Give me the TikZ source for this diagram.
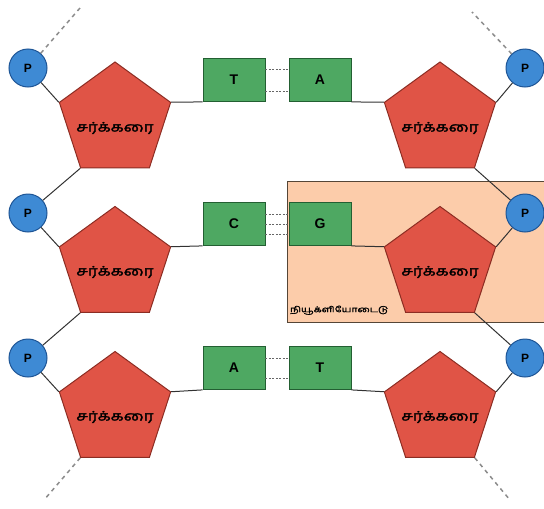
\documentclass[tikz,border=0pt]{standalone}
\usepackage{fontspec}
\setmainfont{Liberation Sans}
\newfontfamily\tamilfont[Script=Tamil,FakeStretch=1.3,FakeBold=2]{Hind Madurai}
\usetikzlibrary{shapes.geometric}
\definecolor{sugarred}{RGB}{224,84,70}
\definecolor{sugaredge}{RGB}{140,45,35}
\definecolor{phosblue}{RGB}{62,138,212}
\definecolor{phosedge}{RGB}{30,85,150}
\definecolor{basegreen}{RGB}{78,168,98}
\definecolor{baseedge}{RGB}{35,95,50}
\definecolor{peach}{RGB}{252,204,170}
\definecolor{peachedge}{RGB}{85,70,55}
\definecolor{linedark}{RGB}{50,50,50}
\begin{document}
\begin{tikzpicture}[x=1pt,y=-1pt,
  sugar/.style={regular polygon, regular polygon sides=5, minimum size=117pt, inner sep=0pt, fill=sugarred, draw=sugaredge, line width=1pt},
  phos/.style={circle, minimum size=38pt, inner sep=0pt, fill=phosblue, draw=phosedge, line width=1pt, font=\bfseries\fontsize{12}{12}\selectfont},
  basebox/.style={rectangle, minimum width=62pt, minimum height=43pt, inner sep=0pt, fill=basegreen, draw=baseedge, line width=0.8pt, font=\bfseries\fontsize{14}{14}\selectfont},
  bond/.style={draw=linedark, line width=1pt},
  hb/.style={draw=gray!80!black, line width=1pt, dash pattern=on 2pt off 1.5pt},
  ext/.style={draw=gray!90, line width=1.5pt, dash pattern=on 4pt off 4pt},
  sugartext/.style={font=\tamilfont\fontsize{13}{14}\selectfont, inner sep=0pt},
]
\clip (0,0) rectangle (544,509);
% nucleotide highlight
\node[draw=peachedge, fill=peach, line width=1.2pt, minimum width=270pt, minimum height=141pt, inner sep=0pt, anchor=north west] (nuc) at (287,181) {};
\node[anchor=south west, inner sep=0pt, font=\tamilfont\fontsize{8}{9}\selectfont] (nuclabel) at (290,315) {நியூக்ளியோடைடு};

% sugars
\node[sugar] (S1) at (115,120.5) {};
\node[sugar] (S2) at (115,265) {};
\node[sugar] (S3) at (115,410) {};
\node[sugar] (R1) at (440,120.5) {};
\node[sugar] (R2) at (440,265) {};
\node[sugar] (R3) at (440,410) {};
\node[sugartext] (tS1) at (115,128) {சர்க்கரை};
\node[sugartext] (tS2) at (115,272) {சர்க்கரை};
\node[sugartext] (tS3) at (115,417) {சர்க்கரை};
\node[sugartext] (tR1) at (440,128) {சர்க்கரை};
\node[sugartext] (tR2) at (440,272) {சர்க்கரை};
\node[sugartext] (tR3) at (440,417) {சர்க்கரை};

% phosphates
\node[phos] (P1) at (28,68) {P};
\node[phos] (P2) at (28,213) {P};
\node[phos] (P3) at (28,358) {P};
\node[phos] (Q1) at (525,68) {P};
\node[phos] (Q2) at (525,213) {P};
\node[phos] (Q3) at (525,358) {P};

% bases
\node[basebox] (B1) at (234,80) {T};
\node[basebox] (C1) at (320,80) {A};
\node[basebox] (B2) at (234,224) {C};
\node[basebox] (C2) at (320,224) {G};
\node[basebox] (B3) at (234,368) {A};
\node[basebox] (C3) at (320,368) {T};

% backbone left
\draw[bond] (P1) -- (S1.corner 2);
\draw[bond] (S1.corner 3) -- (P2);
\draw[bond] (P2) -- (S2.corner 2);
\draw[bond] (S2.corner 3) -- (P3);
\draw[bond] (P3) -- (S3.corner 2);
% backbone right
\draw[bond] (Q1) -- (R1.corner 5);
\draw[bond] (R1.corner 4) -- (Q2);
\draw[bond] (Q2) -- (R2.corner 5);
\draw[bond] (R2.corner 4) -- (Q3);
\draw[bond] (Q3) -- (R3.corner 5);
% sugar to base
\draw[bond] (S1.corner 5) -- (B1.south west);
\draw[bond] (S2.corner 5) -- (B2.south west);
\draw[bond] (S3.corner 5) -- (B3.south west);
\draw[bond] (R1.corner 2) -- (C1.south east);
\draw[bond] (R2.corner 2) -- (C2.south east);
\draw[bond] (R3.corner 2) -- (C3.south east);

% hydrogen bonds
\draw[hb] ([yshift=-11pt]B1.east) -- ([yshift=-11pt]C1.west);
\draw[hb] ([yshift=11pt]B1.east) -- ([yshift=11pt]C1.west);
\draw[hb] ([yshift=-10pt]B2.east) -- ([yshift=-10pt]C2.west);
\draw[hb] (B2.east) -- (C2.west);
\draw[hb] ([yshift=10pt]B2.east) -- ([yshift=10pt]C2.west);
\draw[hb] ([yshift=-10pt]B3.east) -- ([yshift=-10pt]C3.west);
\draw[hb] ([yshift=10pt]B3.east) -- ([yshift=10pt]C3.west);

% strand continuation
\coordinate (topL) at (80,8);
\coordinate (topR) at (472,12);
\coordinate (botL) at (44,500);
\coordinate (botR) at (510,500);
\draw[ext] (P1) -- (topL);
\draw[ext] (Q1) -- (topR);
\draw[ext] (S3.corner 3) -- (botL);
\draw[ext] (R3.corner 4) -- (botR);
\end{tikzpicture}
\end{document}
